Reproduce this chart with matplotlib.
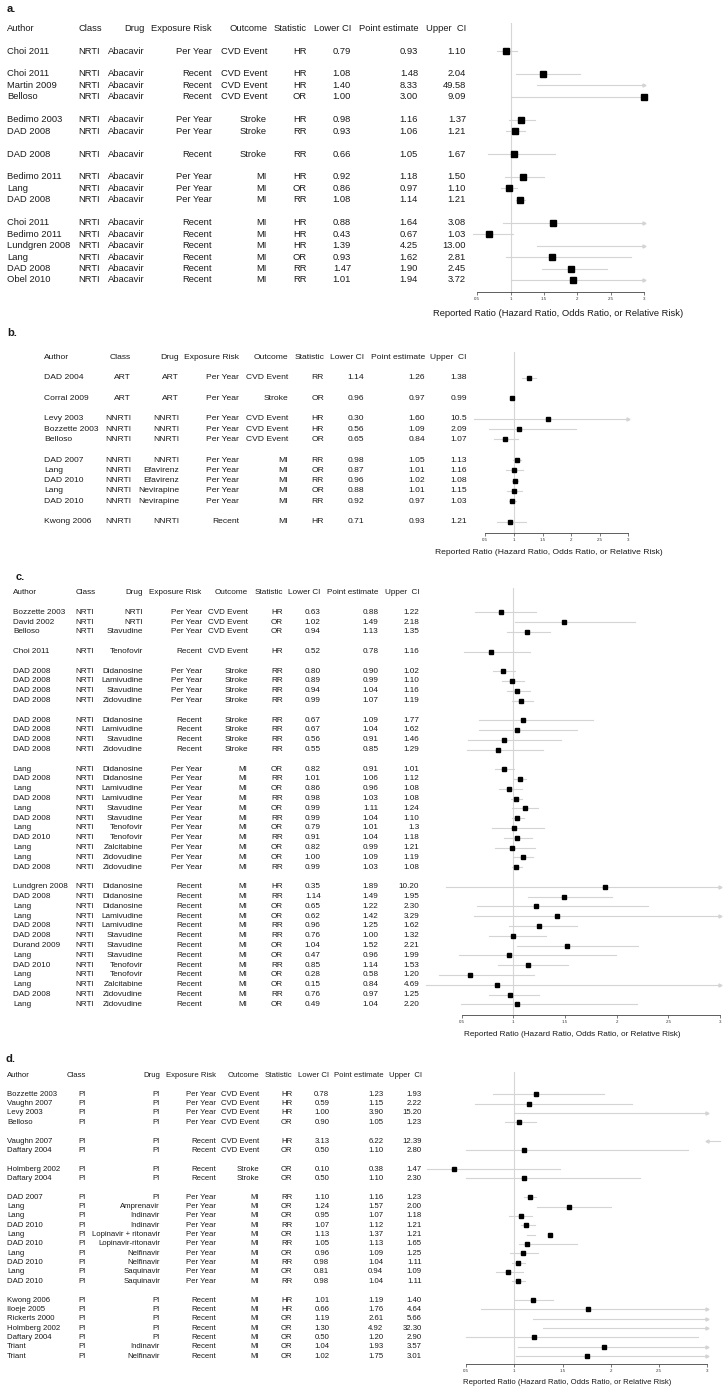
import matplotlib.pyplot as plt
from matplotlib.transforms import blended_transform_factory

plt.rcParams["font.family"] = ["Liberation Sans", "DejaVu Sans"]

W, H = 726, 1393
HEADERS = ["Author", "Class", "Drug", "Exposure Risk", "Outcome", "Statistic",
           "Lower CI", "Point estimate", "Upper  CI"]
XTICKS = [0.5, 1, 1.5, 2, 2.5, 3]
XTICKLABELS = ["0.5", "1", "1.5", "2", "2.5", "3"]
XLABEL = "Reported Ratio (Hazard Ratio, Odds Ratio, or Relative Risk)"

# ---------------- panel a: NRTI abacavir ----------------
a_author = ["Choi 2011",
            "Choi 2011", "Martin 2009", "Belloso",
            "Bedimo 2003", "DAD 2008",
            "DAD 2008",
            "Bedimo 2011", "Lang", "DAD 2008",
            "Choi 2011", "Bedimo 2011", "Lundgren 2008", "Lang", "DAD 2008", "Obel 2010"]
a_class = ["NRTI"] * 16
a_drug = ["Abacavir"] * 16
a_exposure = ["Per Year"] + ["Recent"] * 3 + ["Per Year"] * 2 + ["Recent"] + ["Per Year"] * 3 + ["Recent"] * 6
a_outcome = ["CVD Event"] * 4 + ["Stroke"] * 3 + ["MI"] * 9
a_stat = ["HR", "HR", "HR", "OR", "HR", "RR", "RR", "HR", "OR", "RR",
          "HR", "HR", "HR", "OR", "RR", "RR"]
a_lower = ["0.79", "1.08", "1.40", "1.00", "0.98", "0.93", "0.66", "0.92", "0.86", "1.08",
           "0.88", "0.43", "1.39", "0.93", "1.47", "1.01"]
a_point = ["0.93", "1.48", "8.33", "3.00", "1.16", "1.06", "1.05", "1.18", "0.97", "1.14",
           "1.64", "0.67", "4.25", "1.62", "1.90", "1.94"]
a_upper = ["1.10", "2.04", "49.58", "9.09", "1.37", "1.21", "1.67", "1.50", "1.10", "1.21",
           "3.08", "1.03", "13.00", "2.81", "2.45", "3.72"]
a_groups = [1, 3, 2, 1, 3, 6]

# ---------------- panel b: ART / NNRTI ----------------
b_author = ["DAD 2004", "Corral 2009", "Levy 2003", "Bozzette 2003", "Belloso",
            "DAD 2007", "Lang", "DAD 2010", "Lang", "DAD 2010", "Kwong 2006"]
b_class = ["ART", "ART"] + ["NNRTI"] * 9
b_drug = ["ART", "ART", "NNRTI", "NNRTI", "NNRTI", "NNRTI", "Efavirenz", "Efavirenz",
          "Nevirapine", "Nevirapine", "NNRTI"]
b_exposure = ["Per Year"] * 10 + ["Recent"]
b_outcome = ["CVD Event", "Stroke", "CVD Event", "CVD Event", "CVD Event",
             "MI", "MI", "MI", "MI", "MI", "MI"]
b_stat = ["RR", "OR", "HR", "HR", "OR", "RR", "OR", "RR", "OR", "RR", "HR"]
b_lower = ["1.14", "0.96", "0.30", "0.56", "0.65", "0.98", "0.87", "0.96", "0.88", "0.92", "0.71"]
b_point = ["1.26", "0.97", "1.60", "1.09", "0.84", "1.05", "1.01", "1.02", "1.01", "0.97", "0.93"]
b_upper = ["1.38", "0.99", "10.5", "2.09", "1.07", "1.13", "1.16", "1.08", "1.15", "1.03", "1.21"]
b_groups = [1, 1, 3, 5, 1]

# ---------------- panel c: NRTI other ----------------
c_author = ["Bozzette 2003", "David 2002", "Belloso",
            "Choi 2011",
            "DAD 2008", "DAD 2008", "DAD 2008", "DAD 2008",
            "DAD 2008", "DAD 2008", "DAD 2008", "DAD 2008",
            "Lang", "DAD 2008", "Lang", "DAD 2008", "Lang", "DAD 2008", "Lang", "DAD 2010",
            "Lang", "Lang", "DAD 2008",
            "Lundgren 2008", "DAD 2008", "Lang", "Lang", "DAD 2008", "DAD 2008", "Durand 2009",
            "Lang", "DAD 2010", "Lang", "Lang", "DAD 2008", "Lang"]
c_class = ["NRTI"] * 36
c_drug = ["NRTI", "NRTI", "Stavudine",
          "Tenofovir",
          "Didanosine", "Lamivudine", "Stavudine", "Zidovudine",
          "Didanosine", "Lamivudine", "Stavudine", "Zidovudine",
          "Didanosine", "Didanosine", "Lamivudine", "Lamivudine", "Stavudine", "Stavudine",
          "Tenofovir", "Tenofovir", "Zalcitabine", "Zidovudine", "Zidovudine",
          "Didanosine", "Didanosine", "Didanosine", "Lamivudine", "Lamivudine", "Stavudine",
          "Stavudine", "Stavudine", "Tenofovir", "Tenofovir", "Zalcitabine", "Zidovudine",
          "Zidovudine"]
c_exposure = (["Per Year"] * 3 + ["Recent"] + ["Per Year"] * 4 + ["Recent"] * 4
              + ["Per Year"] * 11 + ["Recent"] * 13)
c_outcome = ["CVD Event"] * 4 + ["Stroke"] * 8 + ["MI"] * 24
c_stat = ["HR", "OR", "OR", "HR"] + ["RR"] * 8 + \
         ["OR", "RR", "OR", "RR", "OR", "RR", "OR", "RR", "OR", "OR", "RR"] + \
         ["HR", "RR", "OR", "OR", "RR", "RR", "OR", "OR", "RR", "OR", "OR", "RR", "OR"]
c_lower = ["0.63", "1.02", "0.94", "0.52", "0.80", "0.89", "0.94", "0.99",
           "0.67", "0.67", "0.56", "0.55",
           "0.82", "1.01", "0.86", "0.98", "0.99", "0.99", "0.79", "0.91", "0.82", "1.00", "0.99",
           "0.35", "1.14", "0.65", "0.62", "0.96", "0.76", "1.04", "0.47", "0.85", "0.28",
           "0.15", "0.76", "0.49"]
c_point = ["0.88", "1.49", "1.13", "0.78", "0.90", "0.99", "1.04", "1.07",
           "1.09", "1.04", "0.91", "0.85",
           "0.91", "1.06", "0.96", "1.03", "1.11", "1.04", "1.01", "1.04", "0.99", "1.09", "1.03",
           "1.89", "1.49", "1.22", "1.42", "1.25", "1.00", "1.52", "0.96", "1.14", "0.58",
           "0.84", "0.97", "1.04"]
c_upper = ["1.22", "2.18", "1.35", "1.16", "1.02", "1.10", "1.16", "1.19",
           "1.77", "1.62", "1.46", "1.29",
           "1.01", "1.12", "1.08", "1.08", "1.24", "1.10", "1.3", "1.18", "1.21", "1.19", "1.08",
           "10.20", "1.95", "2.30", "3.29", "1.62", "1.32", "2.21", "1.99", "1.53", "1.20",
           "4.69", "1.25", "2.20"]
c_groups = [3, 1, 4, 4, 11, 13]

# ---------------- panel d: PI ----------------
d_author = ["Bozzette 2003", "Vaughn 2007", "Levy 2003", "Belloso",
            "Vaughn 2007", "Daftary 2004",
            "Holmberg 2002", "Daftary 2004",
            "DAD 2007", "Lang", "Lang", "DAD 2010", "Lang", "DAD 2010", "Lang", "DAD 2010",
            "Lang", "DAD 2010",
            "Kwong 2006", "Iloeje 2005", "Rickerts 2000", "Holmberg 2002", "Daftary 2004",
            "Triant", "Triant"]
d_class = ["PI"] * 25
d_drug = ["PI"] * 9 + ["Amprenavir", "Indinavir", "Indinavir", "Lopinavir + ritonavir",
                       "Lopinavir-ritonavir", "Nelfinavir", "Nelfinavir", "Saquinavir",
                       "Saquinavir"] + ["PI"] * 5 + ["Indinavir", "Nelfinavir"]
d_exposure = ["Per Year"] * 4 + ["Recent"] * 4 + ["Per Year"] * 10 + ["Recent"] * 7
d_outcome = ["CVD Event"] * 6 + ["Stroke"] * 2 + ["MI"] * 17
d_stat = ["HR", "HR", "HR", "OR", "HR", "OR", "OR", "OR",
          "RR", "OR", "OR", "RR", "OR", "RR", "OR", "RR", "OR", "RR",
          "HR", "HR", "OR", "OR", "OR", "OR", "OR"]
d_lower = ["0.78", "0.59", "1.00", "0.90", "3.13", "0.50", "0.10", "0.50",
           "1.10", "1.24", "0.95", "1.07", "1.13", "1.05", "0.96", "0.98", "0.81", "0.98",
           "1.01", "0.66", "1.19", "1.30", "0.50", "1.04", "1.02"]
d_point = ["1.23", "1.15", "3.90", "1.05", "6.22", "1.10", "0.38", "1.10",
           "1.16", "1.57", "1.07", "1.12", "1.37", "1.13", "1.09", "1.04", "0.94", "1.04",
           "1.19", "1.76", "2.61", "4.92", "1.20", "1.93", "1.75"]
d_upper = ["1.93", "2.22", "15.20", "1.23", "12.39", "2.80", "1.47", "2.30",
           "1.23", "2.00", "1.18", "1.21", "1.21", "1.65", "1.25", "1.11", "1.09", "1.11",
           "1.40", "4.64", "5.66", "32.30", "2.90", "3.57", "3.01"]
d_groups = [4, 2, 2, 10, 7]
# the original figure shows no square for Rickerts 2000
d_no_marker = ["Rickerts 2000"]

fig = plt.figure(figsize=(W / 100, H / 100), dpi=100)

TXT = "#1a1a1a"
CI_COL = "#d4d4d4"
REF_COL = "#d6d6d6"


def fx(px):
    return px / W


def fy(py):
    return 1 - py / H


def draw_panel(label, label_xy, cols, table, groups, y0, dy, ref_top, axis_y,
               px05, px3, xlab_xy, fs, ms, no_marker=()):
    lower = [float(v) for v in table[6]]
    point = [float(v) for v in table[7]]
    upper = [float(v) for v in table[8]]

    rows = []
    r = 0
    for g in groups:
        rows.extend(range(r, r + g))
        r += g + 1

    ax = fig.add_axes([fx(px05), fy(axis_y), (px3 - px05) / W, (axis_y - ref_top) / H])
    ax.set_xlim(0.5, 3)
    ax.set_ylim((axis_y - y0) / dy, (ref_top - y0) / dy)
    ax.patch.set_alpha(0)
    for s in ["top", "right", "left"]:
        ax.spines[s].set_visible(False)
    ax.spines["bottom"].set_color("#444444")
    ax.spines["bottom"].set_linewidth(0.6)
    ax.set_yticks([])
    ax.set_xticks(XTICKS)
    ax.set_xticklabels(XTICKLABELS)
    ax.tick_params(axis="x", labelsize=3.2, length=2.2, width=0.5, pad=1.5,
                   colors="#444444", labelcolor="#333333")

    ax.axvline(1, color=REF_COL, lw=0.8, zorder=1)

    for row, name, lo, pt, hi in zip(rows, table[0], lower, point, upper):
        if lo > 3:
            ax.plot([3, lo], [row, row], color=CI_COL, lw=0.8, clip_on=False, zorder=2)
            ax.plot(3, row, marker="<", ms=2.2, color=CI_COL, clip_on=False, zorder=2)
        else:
            ax.plot([lo, min(hi, 3)], [row, row], color=CI_COL, lw=0.8, clip_on=False, zorder=2)
            if hi > 3:
                ax.plot(3, row, marker=">", ms=2.2, color=CI_COL, clip_on=False, zorder=2)
        if pt <= 3 and name not in no_marker:
            ax.plot(pt, row, marker="s", ms=ms, color="black", clip_on=False, zorder=3)

    tr = blended_transform_factory(fig.transFigure, ax.transData)
    for (cx, ha), head, column in zip(cols, HEADERS, table):
        ax.text(fx(cx), -2, head, transform=tr, ha=ha, va="center",
                fontsize=fs, color=TXT, clip_on=False)
        for row, val in zip(rows, column):
            ax.text(fx(cx), row, val, transform=tr, ha=ha, va="center",
                    fontsize=fs, color=TXT, clip_on=False)

    fig.text(fx(xlab_xy[0]), fy(xlab_xy[1]), XLABEL, ha="center", va="center",
             fontsize=fs, color=TXT)
    fig.text(fx(label_xy[0]), fy(label_xy[1]), label, ha="left", va="center",
             fontsize=8, fontweight="bold", color=TXT)


draw_panel("a.", (6.5, 8.5),
           [(7, "left"), (78.5, "left"), (145, "right"), (212, "right"), (267, "right"),
            (307, "right"), (351, "right"), (418, "right"), (466, "right")],
           [a_author, a_class, a_drug, a_exposure, a_outcome, a_stat, a_lower, a_point, a_upper],
           a_groups, 51, 11.45, 22.7, 292, 477.3, 644, (558, 314), 6.75, 3.8)

draw_panel("b.", (7, 333),
           [(44.3, "left"), (131, "right"), (179, "right"), (239, "right"), (288, "right"),
            (324, "right"), (364, "right"), (425, "right"), (467, "right")],
           [b_author, b_class, b_drug, b_exposure, b_outcome, b_stat, b_lower, b_point, b_upper],
           b_groups, 377.7, 10.29, 351.7, 532.7, 485.3, 628.3, (549, 552.7), 6.1, 3.5)

draw_panel("c.", (16, 577),
           [(13.3, "left"), (75.5, "left"), (142.7, "right"), (201.7, "right"), (247.7, "right"),
            (282.7, "right"), (320.7, "right"), (378.3, "right"), (419.3, "right")],
           [c_author, c_class, c_drug, c_exposure, c_outcome, c_stat, c_lower, c_point, c_upper],
           c_groups, 612.3, 9.8, 588.3, 1015, 461.7, 720, (572.5, 1035), 5.9, 3.5)

draw_panel("d.", (5, 1059),
           [(7.3, "left"), (86, "right"), (160, "right"), (216, "right"), (259.3, "right"),
            (292.7, "right"), (329.3, "right"), (383.3, "right"), (421.7, "right")],
           [d_author, d_class, d_drug, d_exposure, d_outcome, d_stat, d_lower, d_point, d_upper],
           d_groups, 1094.3, 9.35, 1071.7, 1364, 466, 707.3, (567, 1382.7), 5.6, 3.3,
           no_marker=d_no_marker)

fig.savefig("out.png", dpi=100)
